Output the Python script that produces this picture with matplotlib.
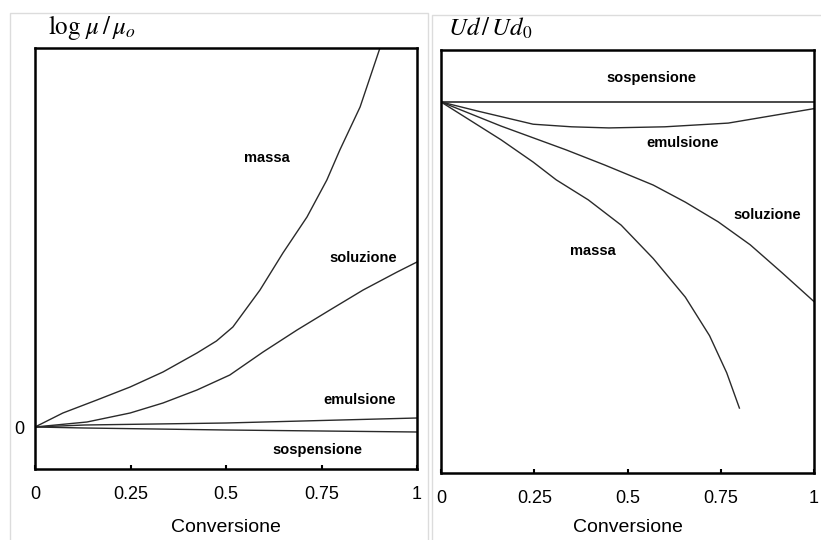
import matplotlib
matplotlib.use("Agg")
import matplotlib.pyplot as plt
from matplotlib.patches import Rectangle

plt.rcParams['mathtext.fontset'] = 'stix'
plt.rcParams['font.family'] = ['Liberation Sans', 'DejaVu Sans']

# --- pannello sinistro: log mu/mu0 vs conversione ---
x_massa_l = [0, 0.073, 0.162, 0.249, 0.335, 0.424, 0.475, 0.518, 0.589, 0.649, 0.712, 0.764, 0.798, 0.851, 0.903]
y_massa_l = [0, 0.14, 0.27, 0.40, 0.55, 0.74, 0.86, 1.00, 1.37, 1.74, 2.10, 2.47, 2.77, 3.20, 3.79]
x_sol_l = [0, 0.136, 0.249, 0.335, 0.424, 0.510, 0.597, 0.686, 0.772, 0.859, 0.948, 1.0]
y_sol_l = [0, 0.05, 0.14, 0.24, 0.37, 0.52, 0.75, 0.97, 1.17, 1.37, 1.55, 1.65]
x_emu_l = [0, 0.13, 0.5, 1.0]
y_emu_l = [0, 0.02, 0.04, 0.09]
x_sosp_l = [0, 0.13, 0.5, 1.0]
y_sosp_l = [0, -0.01, -0.03, -0.05]

# --- pannello destro: Ud/Ud0 vs conversione ---
x_sosp_r = [0, 1.0]
y_sosp_r = [1.0, 1.0]
x_emu_r = [0, 0.1, 0.247, 0.35, 0.45, 0.6, 0.77, 1.0]
y_emu_r = [1.0, 0.975, 0.940, 0.933, 0.930, 0.933, 0.943, 0.982]
x_sol_r = [0, 0.161, 0.335, 0.439, 0.569, 0.655, 0.743, 0.829, 0.914, 1.0]
y_sol_r = [1.0, 0.935, 0.871, 0.830, 0.776, 0.730, 0.677, 0.615, 0.540, 0.462]
x_massa_r = [0, 0.161, 0.247, 0.309, 0.395, 0.483, 0.569, 0.655, 0.72, 0.766, 0.800]
y_massa_r = [1.0, 0.898, 0.838, 0.790, 0.736, 0.668, 0.578, 0.474, 0.37, 0.270, 0.175]

xticks = [0, 0.25, 0.5, 0.75, 1]
xticklabels = ['0', '0.25', '0.5', '0.75', '1']

fig = plt.figure(figsize=(8.21, 5.40), dpi=100)

# cornici grigie dei due riquadri
fig.patches.append(Rectangle((10/821, -0.1), (428-10)/821, 1.1 - 13/540,
                             transform=fig.transFigure, fill=False, ec='#dcdcdc', lw=1))
fig.patches.append(Rectangle((432/821, -0.1), 0.6, 1.1 - 15/540,
                             transform=fig.transFigure, fill=False, ec='#dcdcdc', lw=1))

lc = '#2a2a2a'
ax1 = fig.add_axes([35/821, 1 - 469/540, 382/821, (469-48)/540])
ax1.plot(x_massa_l, y_massa_l, color=lc, lw=1)
ax1.plot(x_sol_l, y_sol_l, color=lc, lw=1)
ax1.plot(x_emu_l, y_emu_l, color=lc, lw=1)
ax1.plot(x_sosp_l, y_sosp_l, color=lc, lw=1)
ax1.set_xlim(0, 1)
ax1.set_ylim(-0.42, 3.79)
ax1.set_yticks([0])
ax1.set_yticklabels(['0'])
ax1.tick_params(axis='y', length=0, labelsize=13, pad=8)
ax1.text(0.606, 2.69, 'massa', fontsize=10.5, fontweight='bold', ha='center', va='center')
ax1.text(0.86, 1.69, 'soluzione', fontsize=10.5, fontweight='bold', ha='center', va='center')
ax1.text(0.85, 0.27, 'emulsione', fontsize=10.5, fontweight='bold', ha='center', va='center')
ax1.text(0.74, -0.23, 'sospensione', fontsize=10.5, fontweight='bold', ha='center', va='center')
fig.text(48/821, 1 - 28/540, r'$\log\,\mu\,/\,\mu_o$', fontsize=18, ha='left', va='center')

ax2 = fig.add_axes([441/821, 1 - 473/540, 373/821, (473-50)/540])
ax2.plot(x_sosp_r, y_sosp_r, color=lc, lw=1.2)
ax2.plot(x_emu_r, y_emu_r, color=lc, lw=1)
ax2.plot(x_sol_r, y_sol_r, color=lc, lw=1)
ax2.plot(x_massa_r, y_massa_r, color=lc, lw=1)
ax2.set_xlim(0, 1)
ax2.set_ylim(0, 1.14)
ax2.set_yticks([])
ax2.text(0.564, 1.065, 'sospensione', fontsize=10.5, fontweight='bold', ha='center', va='center')
ax2.text(0.647, 0.889, 'emulsione', fontsize=10.5, fontweight='bold', ha='center', va='center')
ax2.text(0.875, 0.695, 'soluzione', fontsize=10.5, fontweight='bold', ha='center', va='center')
ax2.text(0.408, 0.598, 'massa', fontsize=10.5, fontweight='bold', ha='center', va='center')
fig.text(448/821, 1 - 28/540, r'$Ud\,/\,Ud_0$', fontsize=18, ha='left', va='center')

for ax in (ax1, ax2):
    for s in ax.spines.values():
        s.set_linewidth(1.8)
        s.set_color('black')
    ax.set_xticks(xticks)
    ax.set_xticklabels(xticklabels)
    ax.tick_params(axis='x', direction='in', length=3, width=1.5, labelsize=13, pad=12)
ax1.set_xlabel('Conversione', fontsize=14, labelpad=12)
ax2.set_xlabel('Conversione', fontsize=14, labelpad=9)

fig.savefig('out.png', dpi=100)
